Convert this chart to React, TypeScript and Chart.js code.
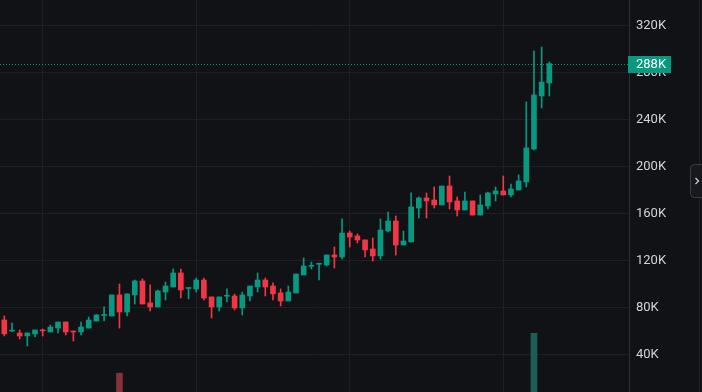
import React, { useEffect, useRef } from "react";
import { Chart, registerables } from "chart.js";

Chart.register(...registerables);

// OHLC values (one candle per period), in price units
const opens = [69800, 60300, 58700, 56200, 57900, 61000, 59600, 62900, 68100, 60400, 59600, 62900, 68900, 73600, 73200, 91100, 76600, 91100, 103000, 84300, 80900, 93600, 97900, 109800, 96600, 96200, 103800, 89400, 80900, 90000, 90200, 80000, 90200, 97900, 103800, 98700, 92800, 86000, 92800, 108100, 115500, 117200, 116600, 125100, 123400, 143800, 141300, 137900, 130200, 124300, 145500, 154000, 133600, 136200, 165100, 173600, 171900, 167700, 183800, 171100, 163400, 171100, 159100, 166800, 177000, 179600, 176200, 180400, 187200, 215300, 260400, 271500];
const highs = [73200, 67200, 61300, 58700, 61300, 62100, 65500, 68100, 68100, 60400, 68100, 72300, 74500, 80900, 91100, 100400, 92000, 103800, 104700, 99600, 95300, 102100, 113200, 113200, 97000, 105500, 105500, 89400, 89400, 96200, 91900, 93600, 98700, 109800, 105500, 101300, 96200, 98700, 108900, 122600, 119100, 117500, 125100, 131900, 155800, 145500, 143000, 137900, 139600, 155800, 161700, 158300, 145500, 177900, 174500, 177900, 183000, 183800, 192300, 174500, 178700, 171100, 176200, 178700, 183000, 192300, 185500, 193200, 255300, 298700, 302100, 289400];
const lows = [56200, 60000, 53600, 47700, 55300, 56200, 59600, 58700, 57000, 51900, 57000, 62900, 68900, 68900, 73200, 62900, 73200, 83400, 83400, 77400, 80900, 86800, 97900, 88500, 87700, 93600, 86800, 71500, 77400, 85100, 78300, 74000, 86000, 93600, 90200, 86800, 81700, 86000, 92800, 108100, 113200, 103800, 115700, 114000, 121700, 131900, 135300, 123400, 120000, 121700, 144700, 125100, 133600, 136200, 156600, 156600, 165100, 167700, 164300, 158300, 163400, 159100, 159100, 164300, 171100, 176200, 174500, 180400, 183000, 214500, 250200, 260400];
const closes = [57900, 60800, 56200, 58700, 61300, 60500, 63800, 68100, 59600, 59600, 63800, 69800, 74000, 74500, 91100, 76600, 92000, 103000, 83400, 80900, 94500, 98700, 109800, 95300, 97000, 103800, 88500, 80900, 89400, 90500, 80000, 91100, 98700, 103800, 97900, 92000, 86000, 93600, 108900, 115700, 116000, 117500, 125100, 123400, 143800, 140400, 137900, 129400, 124300, 146400, 154000, 133600, 137000, 166000, 173600, 171100, 167700, 183800, 170200, 163400, 171100, 159100, 167700, 177900, 179600, 176200, 181300, 188100, 216200, 261300, 272300, 288000];
// Volume (only the bars that reach the visible area are known)
const volumes: (number | null)[] = opens.map(() => null);
volumes[15] = 4.8;
volumes[69] = 15.0;

// Price axis ticks
const priceTicks = [40000, 80000, 120000, 160000, 200000, 240000, 280000, 320000];
// Vertical grid positions (candle indices)
const timeGridTicks = [5, 25, 45, 65];

const UP = "#089981";
const DOWN = "#f23645";
const UP_VOL = "#1a5f52";
const DOWN_VOL = "#86303a";
const BG = "#111216";
const GRID = "#1d1f25";
const TEXT = "#d1d4dc";
const FONT = "Roboto, 'Noto Sans', sans-serif";

const fmtK = (v: number) => `${Math.round(v / 1000)}K`;

export default function App() {
  const ref = useRef<HTMLCanvasElement | null>(null);

  useEffect(() => {
    if (!ref.current) return;
    const idx = opens.map((_, i) => i);
    const colors = idx.map((i) => (closes[i] >= opens[i] ? UP : DOWN));
    const volColors = idx.map((i) => (closes[i] >= opens[i] ? UP_VOL : DOWN_VOL));
    const lastClose = closes[closes.length - 1];

    const overlay = {
      id: "overlay",
      beforeDraw(chart: any) {
        const { ctx, width, height } = chart;
        ctx.save();
        ctx.fillStyle = BG;
        ctx.fillRect(0, 0, width, height);
        ctx.restore();
      },
      afterDraw(chart: any) {
        const { ctx, chartArea, height } = chart;
        const y = Math.round(chart.scales.y.getPixelForValue(lastClose)) + 0.5;
        ctx.save();
        // dotted last-price line
        ctx.strokeStyle = UP;
        ctx.lineWidth = 1;
        ctx.setLineDash([1, 2]);
        ctx.beginPath();
        ctx.moveTo(chartArea.left, y);
        ctx.lineTo(chartArea.right, y);
        ctx.stroke();
        ctx.setLineDash([]);
        // price label
        ctx.fillStyle = UP;
        ctx.fillRect(chartArea.right - 1, y - 8.5, 43, 17);
        ctx.fillStyle = "#ffffff";
        ctx.font = `13px ${FONT}`;
        ctx.textAlign = "left";
        ctx.textBaseline = "middle";
        ctx.fillText(fmtK(lastClose), chartArea.right + 7, y + 0.5);
        // right pane edge
        ctx.strokeStyle = "#202328";
        ctx.beginPath();
        ctx.moveTo(699.5, 0);
        ctx.lineTo(699.5, height);
        ctx.stroke();
        // side toggle button
        ctx.beginPath();
        const bx = 690.5, by = 164.5, bw = 20, bh = 33, r = 4;
        ctx.moveTo(bx + r, by);
        ctx.lineTo(bx + bw, by);
        ctx.lineTo(bx + bw, by + bh);
        ctx.lineTo(bx + r, by + bh);
        ctx.arcTo(bx, by + bh, bx, by + bh - r, r);
        ctx.lineTo(bx, by + r);
        ctx.arcTo(bx, by, bx + r, by, r);
        ctx.closePath();
        ctx.fillStyle = "#17191e";
        ctx.fill();
        ctx.strokeStyle = "#3a3d44";
        ctx.stroke();
        ctx.strokeStyle = "#c9ccd4";
        ctx.lineWidth = 1.3;
        ctx.beginPath();
        ctx.moveTo(695.5, 178);
        ctx.lineTo(698.5, 181);
        ctx.lineTo(695.5, 184);
        ctx.stroke();
        ctx.restore();
      },
    };

    const chart = new Chart(ref.current, {
      type: "bar",
      data: {
        datasets: [
          {
            label: "Volume",
            data: idx.map((i) => ({ x: i, y: volumes[i] })),
            backgroundColor: volColors,
            barThickness: 6,
            grouped: false,
            yAxisID: "y2",
            order: 3,
          } as any,
          {
            label: "Wicks",
            data: idx.map((i) => ({ x: i, y: [lows[i], highs[i]] })),
            backgroundColor: colors,
            barThickness: 1,
            grouped: false,
            yAxisID: "y",
            order: 2,
          },
          {
            label: "Bodies",
            data: idx.map((i) => ({
              x: i,
              y: [Math.min(opens[i], closes[i]), Math.max(opens[i], closes[i])],
            })),
            backgroundColor: colors,
            barThickness: 5,
            minBarLength: 1,
            grouped: false,
            yAxisID: "y",
            order: 1,
          },
        ],
      },
      options: {
        animation: false,
        responsive: false,
        devicePixelRatio: 1,
        layout: { padding: 0 },
        plugins: { legend: { display: false }, tooltip: { enabled: false } },
        scales: {
          x: {
            type: "linear",
            offset: false,
            min: -0.56,
            max: 81.38,
            afterBuildTicks: (s: any) => {
              s.ticks = timeGridTicks.map((v) => ({ value: v }));
            },
            afterFit: (s: any) => {
              s.height = 0;
              s.paddingLeft = 0;
              s.paddingRight = 0;
              s.paddingTop = 0;
              s.paddingBottom = 0;
            },
            ticks: { display: false },
            grid: { color: GRID, drawTicks: false, offset: false },
            border: { display: false },
          },
          y: {
            type: "linear",
            position: "right",
            min: 8500,
            max: 342100,
            afterBuildTicks: (s: any) => {
              s.ticks = priceTicks.map((v) => ({ value: v }));
            },
            afterFit: (s: any) => {
              s.width = 73;
              s.paddingTop = 0;
              s.paddingBottom = 0;
            },
            ticks: {
              color: TEXT,
              padding: 7,
              font: { family: FONT, size: 13 },
              callback: (v: any) => fmtK(Number(v)),
            },
            grid: { color: GRID, drawTicks: false },
            border: { display: true, color: "#2a2d34" },
          },
          y2: {
            type: "linear",
            display: false,
            min: 0,
            max: 100,
          },
        },
      } as any,
      plugins: [overlay],
    });
    return () => chart.destroy();
  }, []);

  return (
    <div style={{ position: "fixed", left: 0, top: 0, width: 702, height: 392, background: BG }}>
      <canvas ref={ref} width={702} height={392} style={{ display: "block" }} />
    </div>
  );
}
